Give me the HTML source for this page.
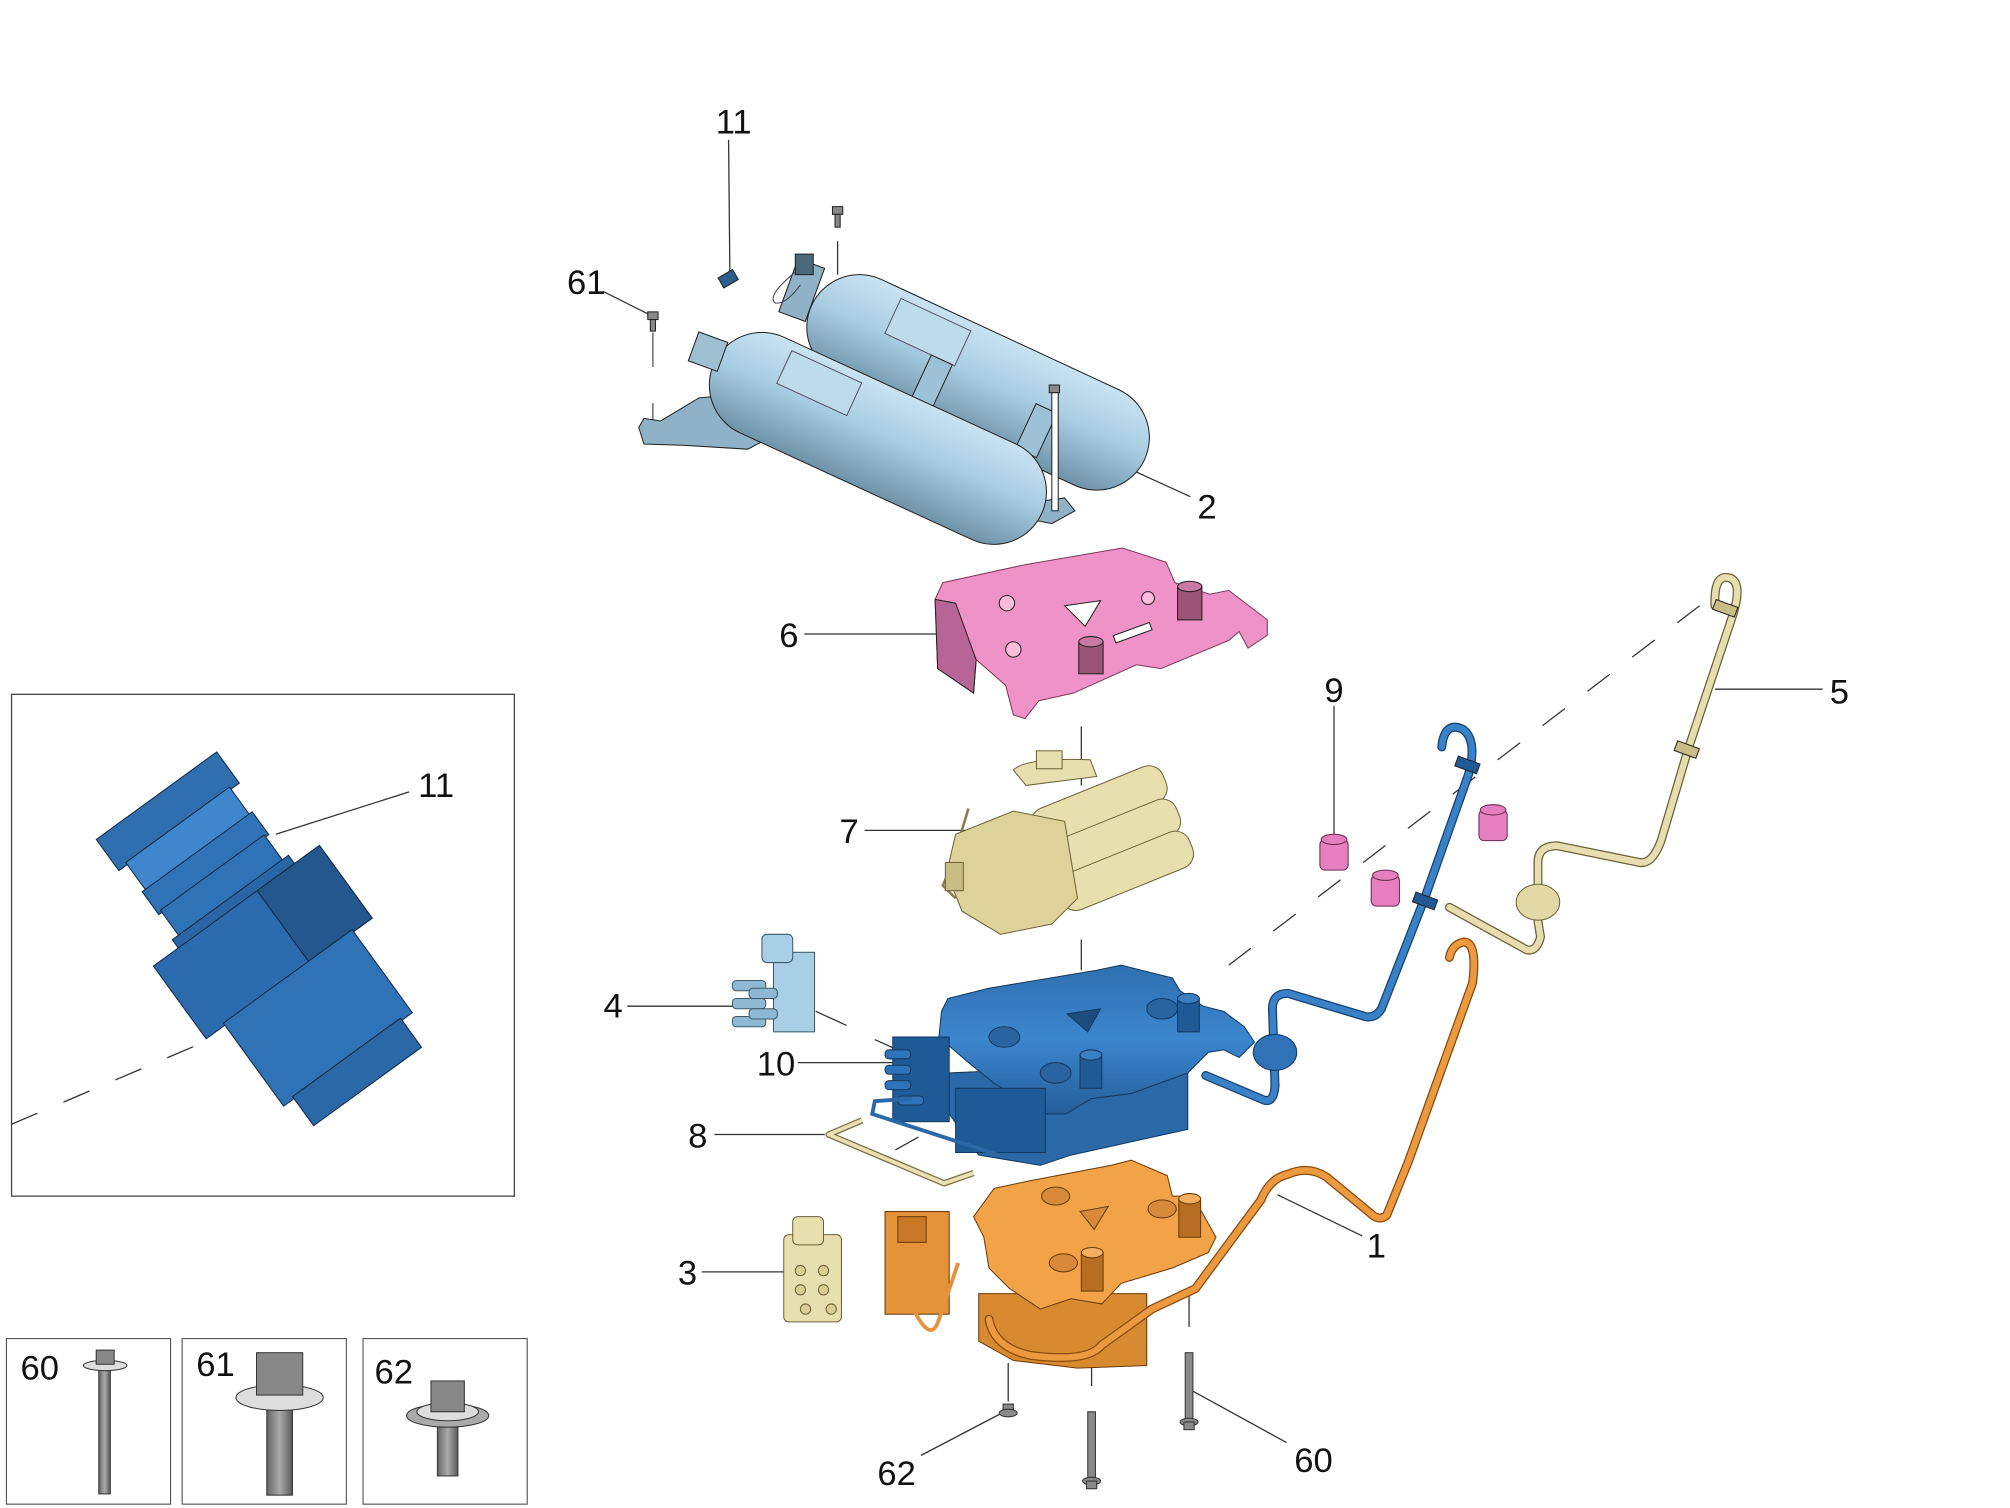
<!DOCTYPE html>
<html><head><meta charset="utf-8"><style>
html,body{margin:0;padding:0;background:#fff;width:2010px;height:1508px;overflow:hidden}
svg{display:block}
text{font-family:"Liberation Sans",sans-serif;font-size:27px;fill:#111}
</style></head><body>
<svg width="2010" height="1508" viewBox="0 0 1567 1175" preserveAspectRatio="none" xmlns="http://www.w3.org/2000/svg">
<defs>
<linearGradient id="tk" x1="0" y1="0" x2="0" y2="1">
<stop offset="0" stop-color="#c9e3f2"/><stop offset="0.45" stop-color="#a9cde2"/><stop offset="1" stop-color="#6f93a8"/></linearGradient>
<linearGradient id="bl" x1="0" y1="0" x2="0" y2="1">
<stop offset="0" stop-color="#2f6fae"/><stop offset="0.5" stop-color="#3c86cf"/><stop offset="1" stop-color="#245e99"/></linearGradient>
<linearGradient id="gb" x1="0" y1="0" x2="1" y2="0">
<stop offset="0" stop-color="#666"/><stop offset="0.5" stop-color="#aaa"/><stop offset="1" stop-color="#5a5a5a"/></linearGradient>
</defs>
<g stroke="#222" stroke-width="0.8">

<g fill="none" stroke="#333" stroke-width="1">
<line x1="568" y1="109" x2="569" y2="212"/>
<line x1="470" y1="227" x2="508" y2="246"/>
<line x1="509" y1="259" x2="509" y2="286" stroke="#555"/>
<line x1="509" y1="314" x2="509" y2="336" stroke="#555"/>
<line x1="653" y1="188" x2="653" y2="214"/>
<line x1="882" y1="366" x2="928" y2="387"/>
<line x1="627" y1="494" x2="735" y2="494"/>
<line x1="674" y1="647" x2="765" y2="647"/>
<line x1="843" y1="566" x2="843" y2="612"/>
<line x1="843" y1="732" x2="843" y2="756"/>
<line x1="1040" y1="550" x2="1040" y2="650"/>
<line x1="1337" y1="537" x2="1421" y2="537"/>
<line x1="489" y1="784" x2="571" y2="784"/>
<line x1="636" y1="788" x2="660" y2="799"/>
<line x1="682" y1="810" x2="704" y2="820"/>
<line x1="622" y1="828" x2="700" y2="828"/>
<line x1="557" y1="884" x2="643" y2="884"/>
<line x1="698" y1="896" x2="716" y2="886"/>
<line x1="547" y1="991" x2="612" y2="991"/>
<line x1="1062" y1="963" x2="996" y2="931"/>
<line x1="718" y1="1134" x2="783" y2="1100"/>
<line x1="930" y1="1084" x2="1003" y2="1124"/>
<line x1="851" y1="1026" x2="851" y2="1080"/>
<line x1="927" y1="1008" x2="927" y2="1034"/>
<line x1="786" y1="1062" x2="786" y2="1092"/>
<line x1="1325" y1="472" x2="958" y2="752" stroke-dasharray="22,22"/>
</g>

<polygon points="498,333 502,326 515,328 545,310 557,309 568,326 595,333 598,342 583,350 534,347 502,346" fill="#8fb2c6"/>
<polygon points="800,392 830,388 838,398 820,408 800,404" fill="#8fb2c6"/>
<g transform="translate(670,255) rotate(24.9)">
<rect x="-41" y="-41" width="286" height="82" rx="41" fill="url(#tk)"/>
<rect x="20" y="-34" width="60" height="30" fill="#bcdcec" stroke="#556"/>
<rect x="60" y="-4" width="18" height="38" fill="#9dc2d8"/>
<rect x="150" y="-4" width="18" height="38" fill="#9dc2d8"/>
</g>
<rect x="614" y="204" width="22" height="44" fill="#8fb2c6" transform="rotate(20 625 226)"/>
<rect x="620" y="198" width="14" height="16" fill="#4a6a7c"/>
<path d="M620 212 Q598 230 604 236 Q612 238 624 222" fill="none" stroke="#445"/>
<g transform="translate(594,300) rotate(24.7)">
<rect x="-41" y="-41" width="281" height="82" rx="41" fill="url(#tk)"/>
<rect x="10" y="-34" width="60" height="28" fill="#bcdcec" stroke="#556"/>
</g>
<rect x="540" y="262" width="24" height="24" fill="#9fbfd2" transform="rotate(20 552 274)"/>
<rect x="561" y="213" width="13" height="9" fill="#2c5f8c" transform="rotate(-30 567 217)"/>
<g fill="#888">
<rect x="505" y="243" width="8" height="6"/><rect x="507" y="249" width="4" height="9"/>
<rect x="649" y="161" width="8" height="6"/><rect x="651" y="167" width="4" height="10"/>
<rect x="818" y="300" width="8" height="6"/>
</g>
<rect x="820" y="306" width="5" height="92" fill="#fff"/>

<polygon points="735,454 799,440 875,427 909,438 916,454 943,463 958,460 988,483 988,495 973,505 966,492 958,499 905,521 886,518 837,540 810,546 799,560 790,557 784,534 761,514 759,540 731,521 729,467" fill="#ee92c8" stroke="#7a3a5c"/>
<polygon points="729,467 745,470 761,514 759,540 731,521" fill="#b76596"/>
<polygon points="830,472 858,468 846,488" fill="#fff"/>
<circle cx="785" cy="470" r="6" fill="#fbd"/><circle cx="790" cy="506" r="6" fill="#fbd"/><circle cx="895" cy="466" r="5" fill="#fbd"/>
<rect x="918" y="457" width="19" height="26" fill="#9b5478"/><ellipse cx="927.5" cy="457" rx="9.5" ry="4" fill="#c87aa5"/>
<rect x="841" y="500" width="19" height="25" fill="#9b5478"/><ellipse cx="850.5" cy="500" rx="9.5" ry="4" fill="#c87aa5"/>
<rect x="868" y="490" width="30" height="6" fill="#fff" transform="rotate(-20 883 493)"/>

<g fill="#e8dfae" stroke="#6d6339">
<path d="M755 630 Q740 680 735 690 L745 700" fill="none" stroke="#8a7d4a" stroke-width="2"/>
<path d="M790 600 Q800 590 850 592 L855 605 L800 612 Z"/>
<rect x="808" y="585" width="20" height="14"/>
<g transform="rotate(-22 870 660)">
<rect x="815" y="610" width="110" height="30" rx="12"/>
<rect x="815" y="638" width="110" height="30" rx="12"/>
<rect x="815" y="665" width="110" height="30" rx="12"/>
</g>
<polygon points="745,650 790,632 830,640 840,700 820,720 780,728 750,710 738,680" fill="#ddd29a"/>
<rect x="737" y="672" width="14" height="22" fill="#c9bd85"/>
</g>

<g fill="#e67fbf" stroke="#6a2a50">
<rect x="1029" y="654" width="22" height="24" rx="4"/><ellipse cx="1040" cy="654" rx="10" ry="4"/>
<rect x="1069" y="682" width="22" height="24" rx="4"/><ellipse cx="1080" cy="682" rx="10" ry="4"/>
<rect x="1153" y="631" width="22" height="24" rx="4"/><ellipse cx="1164" cy="631" rx="10" ry="4"/>
</g>

<g fill="#a9cfe6" stroke="#3d5a6c">
<rect x="603" y="742" width="32" height="62"/>
<rect x="594" y="728" width="24" height="22" rx="4"/>
<g fill="#8fb8d2"><rect x="571" y="764" width="26" height="8" rx="3"/><rect x="571" y="778" width="26" height="8" rx="3"/><rect x="571" y="792" width="26" height="8" rx="3"/><rect x="584" y="770" width="22" height="8" rx="3"/><rect x="584" y="786" width="22" height="8" rx="3"/></g>
</g>

<g stroke="#123a60">
<polygon points="740,836 926,828 926,880 835,900 811,908 763,900 740,868" fill="#2a68a8"/>
<polygon points="739,778 771,770 855,756 874,752 914,762 920,772 938,784 954,788 970,800 978,812 966,824 954,818 942,820 934,828 926,836 882,852 851,856 831,868 815,868 795,856 775,844 755,828 732,808 734,788" fill="url(#bl)"/>
<polygon points="832,790 858,786 848,804" fill="#1d4c7e"/>
<g fill="#1d5a96">
<rect x="696" y="808" width="44" height="66"/>
<rect x="745" y="848" width="70" height="50"/>
</g>
<g fill="#2f73b8"><rect x="690" y="818" width="20" height="7" rx="3"/><rect x="690" y="830" width="20" height="7" rx="3"/><rect x="690" y="842" width="20" height="7" rx="3"/><rect x="700" y="854" width="20" height="7" rx="3"/></g>
<ellipse cx="906" cy="786" rx="12" ry="8" fill="#2a64a0"/>
<ellipse cx="783" cy="808" rx="12" ry="8" fill="#2a64a0"/>
<ellipse cx="823" cy="836" rx="12" ry="8" fill="#2a64a0"/>
<rect x="918" y="778" width="17" height="26" fill="#1f5a94"/><ellipse cx="926.5" cy="778" rx="8.5" ry="4" fill="#3a7fc0"/>
<rect x="842" y="822" width="17" height="26" fill="#1f5a94"/><ellipse cx="850.5" cy="822" rx="8.5" ry="4" fill="#3a7fc0"/>
</g>
<path d="M711 856 L682 858 L680 868 L779 900" fill="none" stroke="#2a68a8" stroke-width="3"/>
<path d="M1124 582 Q1126 562 1140 568 Q1152 576 1145 603 L1111 699 L1077 786 Q1072 794 1064 792 L1004 774 Q992 774 992 786 L994 846 Q993 860 985 857 L940 838" fill="none" stroke="#17426e" stroke-width="7" stroke-linejoin="round" stroke-linecap="round"/>
<path d="M1124 582 Q1126 562 1140 568 Q1152 576 1145 603 L1111 699 L1077 786 Q1072 794 1064 792 L1004 774 Q992 774 992 786 L994 846 Q993 860 985 857 L940 838" fill="none" stroke="#3a82c8" stroke-width="5" stroke-linejoin="round" stroke-linecap="round"/>
<ellipse cx="994" cy="820" rx="17" ry="14" fill="#2f72b5" stroke="#123a60"/>
<rect x="1135" y="592" width="18" height="8" fill="#1f5a94" transform="rotate(20 1144 596)"/>
<rect x="1102" y="698" width="18" height="8" fill="#1f5a94" transform="rotate(20 1111 702)"/>

<path d="M672 873 L646 884 L736 922 L759 914" fill="none" stroke="#7d7048" stroke-width="5" stroke-linejoin="round"/>
<path d="M672 873 L646 884 L736 922 L759 914" fill="none" stroke="#e9e0b4" stroke-width="3" stroke-linejoin="round"/>

<path d="M1337 472 Q1336 448 1347 450 Q1360 452 1350 482 L1316 584 L1295 655 Q1288 674 1278 672 L1214 659 Q1199 659 1199 672 L1199 690 M1199 718 L1201 730 Q1198 742 1190 740 L1130 707" fill="none" stroke="#6d6339" stroke-width="7" stroke-linejoin="round" stroke-linecap="round"/>
<path d="M1337 472 Q1336 448 1347 450 Q1360 452 1350 482 L1316 584 L1295 655 Q1288 674 1278 672 L1214 659 Q1199 659 1199 672 L1199 690 M1199 718 L1201 730 Q1198 742 1190 740 L1130 707" fill="none" stroke="#e6ddb0" stroke-width="5" stroke-linejoin="round" stroke-linecap="round"/>
<ellipse cx="1199" cy="703" rx="17" ry="14" fill="#e3d9a6" stroke="#6d6339"/>
<rect x="1336" y="470" width="18" height="8" fill="#c9bd85" transform="rotate(20 1345 474)"/>
<rect x="1306" y="580" width="18" height="8" fill="#c9bd85" transform="rotate(20 1315 584)"/>

<g fill="#e8dfae" stroke="#6d6339">
<rect x="611" y="962" width="45" height="68" rx="4"/>
<rect x="618" y="948" width="24" height="22" rx="4"/>
<g fill="#d8cd92"><circle cx="624" cy="990" r="4"/><circle cx="642" cy="990" r="4"/><circle cx="624" cy="1005" r="4"/><circle cx="642" cy="1005" r="4"/><circle cx="628" cy="1020" r="4"/><circle cx="648" cy="1020" r="4"/></g>
</g>

<g stroke="#6a3a08">
<polygon points="763,1008 894,1008 894,1064 840,1066 790,1060 763,1045" fill="#d88a30"/>
<polygon points="775,926 803,920 866,908 882,904 910,916 914,932 930,932 948,964 942,976 914,988 874,1000 859,1016 835,1012 811,1020 787,1004 771,988 767,964 759,948" fill="#f2a348"/>
<rect x="690" y="944" width="50" height="80" fill="#e4933a"/>
<rect x="700" y="948" width="22" height="20" fill="#c97a28"/>
<polygon points="842,944 864,940 853,958" fill="#d8893a"/>
<ellipse cx="823" cy="932" rx="11" ry="7" fill="#d8893a"/>
<ellipse cx="906" cy="942" rx="11" ry="7" fill="#d8893a"/>
<ellipse cx="829" cy="984" rx="11" ry="7" fill="#d8893a"/>
<rect x="919" y="934" width="17" height="30" fill="#b86e22"/><ellipse cx="927.5" cy="934" rx="8.5" ry="4" fill="#f4b060"/>
<rect x="843" y="976" width="17" height="30" fill="#b86e22"/><ellipse cx="851.5" cy="976" rx="8.5" ry="4" fill="#f4b060"/>
</g>
<path d="M1141 734 Q1132 736 1130 746 M1141 734 Q1152 734 1148 766 L1098 905 L1081 947 Q1075 952 1068 945 L1034 917 Q1020 908 1004 915 Q990 918 983 935 L932 1004 L898 1020 L859 1048 Q848 1062 803 1056 Q775 1050 771 1028" fill="none" stroke="#8a4a10" stroke-width="7" stroke-linejoin="round" stroke-linecap="round"/>
<path d="M1141 734 Q1132 736 1130 746 M1141 734 Q1152 734 1148 766 L1098 905 L1081 947 Q1075 952 1068 945 L1034 917 Q1020 908 1004 915 Q990 918 983 935 L932 1004 L898 1020 L859 1048 Q848 1062 803 1056 Q775 1050 771 1028" fill="none" stroke="#ec9a40" stroke-width="5" stroke-linejoin="round" stroke-linecap="round"/>
<path d="M747 984 L732 1028 Q726 1048 712 1020" fill="none" stroke="#e4933a" stroke-width="3"/>

<g fill="#8a8a8a" stroke="#333">
<rect x="782" y="1094" width="8" height="6"/><ellipse cx="786" cy="1101" rx="7" ry="3"/>
<rect x="848" y="1100" width="6" height="52"/><ellipse cx="851" cy="1154" rx="7" ry="3"/><rect x="847" y="1154" width="8" height="6"/>
<rect x="924" y="1054" width="6" height="52"/><ellipse cx="927" cy="1108" rx="7" ry="3"/><rect x="923" y="1108" width="8" height="6"/>
</g>

<rect x="9" y="541" width="392" height="391" fill="none" stroke="#444" stroke-width="1"/>
<line x1="9" y1="876" x2="166" y2="809" stroke="#333" stroke-width="1" stroke-dasharray="22,22"/>
<g transform="translate(122,620) rotate(54)" stroke="#102a45">
<rect x="0" y="-58" width="30" height="116" fill="#2f6fb0"/>
<rect x="28" y="-50" width="28" height="100" fill="#3f86cc"/>
<rect x="54" y="-53" width="22" height="106" fill="#2f72b5"/>
<rect x="74" y="-50" width="26" height="100" fill="#2f72b5"/>
<rect x="98" y="-56" width="10" height="112" fill="#2a66a6"/>
<rect x="106" y="-80" width="70" height="160" fill="#2c6cae"/>
<rect x="106" y="-80" width="70" height="60" fill="#23578e"/>
<rect x="174" y="-62" width="80" height="124" fill="#2f72b5"/>
<rect x="252" y="-52" width="28" height="104" fill="#2a68a8"/>
</g>
<line x1="319" y1="617" x2="215" y2="650" stroke="#333" stroke-width="1"/>

<rect x="5" y="1043" width="128" height="129" fill="none" stroke="#444"/>
<rect x="142" y="1043" width="128" height="129" fill="none" stroke="#444"/>
<rect x="283" y="1043" width="128" height="129" fill="none" stroke="#444"/>
<g stroke="#333">
<rect x="77" y="1064" width="9" height="100" fill="url(#gb)"/>
<ellipse cx="82" cy="1064" rx="17" ry="4" fill="#ddd"/>
<rect x="75" y="1052" width="14" height="11" fill="#888"/>
<rect x="208" y="1090" width="20" height="75" fill="url(#gb)"/>
<ellipse cx="218" cy="1089" rx="34" ry="10" fill="#ddd"/>
<rect x="200" y="1054" width="36" height="33" fill="#888"/>
<rect x="341" y="1110" width="16" height="40" fill="url(#gb)"/>
<ellipse cx="349" cy="1103" rx="32" ry="9" fill="#aaa"/>
<ellipse cx="349" cy="1100" rx="24" ry="7" fill="#ddd"/>
<rect x="336" y="1076" width="26" height="24" fill="#888"/>
</g>
</g>

<g text-anchor="middle">
<text x="572" y="104">11</text>
<text x="457" y="229">61</text>
<text x="941" y="404">2</text>
<text x="615" y="504">6</text>
<text x="1040" y="547">9</text>
<text x="1434" y="548">5</text>
<text x="340" y="621">11</text>
<text x="662" y="657">7</text>
<text x="478" y="793">4</text>
<text x="605" y="838">10</text>
<text x="544" y="894">8</text>
<text x="1073" y="980">1</text>
<text x="536" y="1001">3</text>
<text x="699" y="1157">62</text>
<text x="1024" y="1147">60</text>
<text x="31" y="1075">60</text>
<text x="168" y="1072">61</text>
<text x="307" y="1078">62</text>
</g>
</svg>
</body></html>
